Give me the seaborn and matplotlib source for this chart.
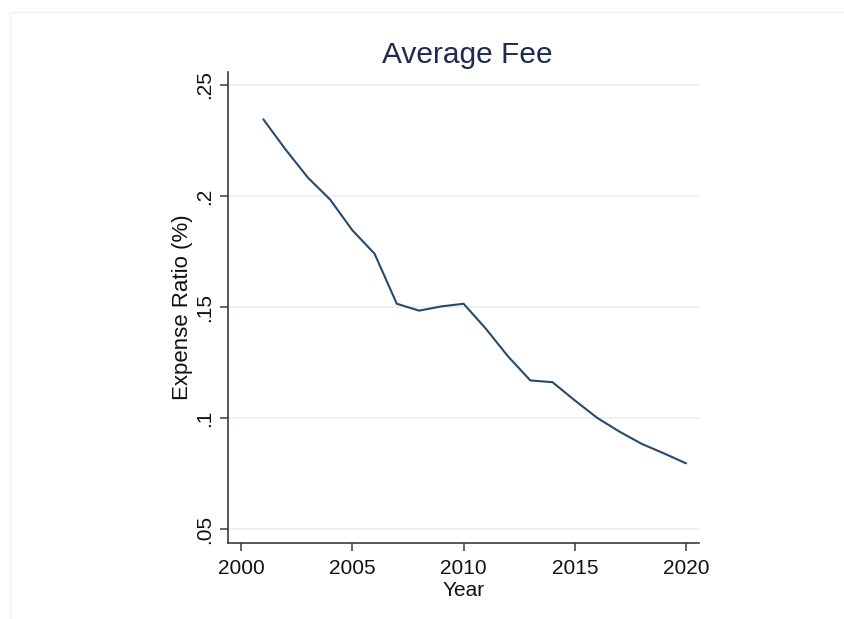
import matplotlib
matplotlib.use("Agg")
import matplotlib.pyplot as plt
from matplotlib.lines import Line2D
import pandas as pd
import seaborn as sns

# Average expense ratio by year
years = list(range(2001, 2021))
expense_ratio = [0.2345, 0.2209, 0.2083, 0.1984, 0.1846, 0.1740, 0.1515, 0.1484,
                 0.1503, 0.1515, 0.1403, 0.1278, 0.1170, 0.1162, 0.1080, 0.1002,
                 0.0940, 0.0885, 0.0842, 0.0797]
x_ticks = [2000, 2005, 2010, 2015, 2020]
y_ticks = [0.05, 0.10, 0.15, 0.20, 0.25]
y_tick_labels = [".05", ".1", ".15", ".2", ".25"]

df = pd.DataFrame({"Year": years, "Expense Ratio (%)": expense_ratio})

sns.set_style("white")
plt.rcParams["font.family"] = ["Liberation Sans", "DejaVu Sans"]

fig = plt.figure(figsize=(8.44, 6.19), dpi=100)
ax = fig.add_axes([227.7 / 844, 1 - 542.7 / 619, (699 - 227.7) / 844, (542.7 - 71.7) / 619])

for yv in y_ticks:
    ax.axhline(yv, color="#eaf2f3", lw=1.4, zorder=0)

sns.lineplot(data=df, x="Year", y="Expense Ratio (%)", ax=ax,
             color="#244b6e", lw=1.5)

ax.set_xlim(1999.4, 2020.58)
ax.set_ylim(0.044, 0.2559)
ax.set_xticks(x_ticks)
ax.set_xticklabels([str(t) for t in x_ticks], fontsize=15, color="#111111")
ax.set_yticks(y_ticks)
ax.set_yticklabels(y_tick_labels, fontsize=15, color="#111111",
                   rotation=90, va="center")

for side in ("top", "right"):
    ax.spines[side].set_visible(False)
for side in ("left", "bottom"):
    ax.spines[side].set_color("#3a3a3a")
    ax.spines[side].set_linewidth(1.2)
ax.tick_params(axis="x", direction="out", length=6, width=1.1,
               color="#3a3a3a", bottom=True, pad=6)
ax.tick_params(axis="y", direction="out", length=6, width=1.1,
               color="#3a3a3a", left=True, pad=4)

ax.set_xlabel("Year", fontsize=15, color="#111111", labelpad=2)
ax.set_ylabel("Expense Ratio (%)", fontsize=16, color="#111111", labelpad=1)

fig.text(467.4 / 844, 1 - 63.3 / 619, "Average Fee", ha="center",
         va="baseline", fontsize=21.5, color="#1c2b4f")

# faint outer frame of the graph region
fig.add_artist(Line2D([10 / 844, 1], [1 - 12 / 619, 1 - 12 / 619],
                      transform=fig.transFigure, color="#f3f3f3", lw=1))
fig.add_artist(Line2D([10 / 844, 10 / 844], [0, 1 - 12 / 619],
                      transform=fig.transFigure, color="#f3f3f3", lw=1))

fig.savefig("out.png", dpi=100, facecolor="white")
